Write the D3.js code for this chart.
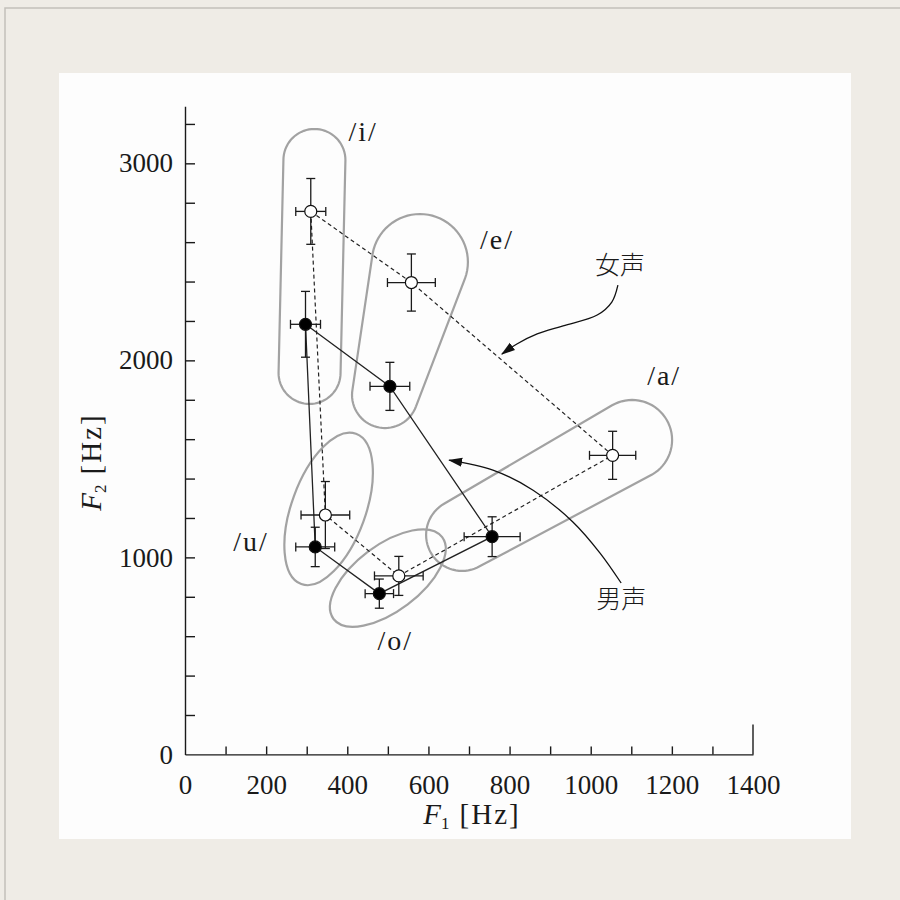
<!DOCTYPE html>
<html>
<head>
<meta charset="utf-8">
<script src="https://cdn.jsdelivr.net/npm/d3@7"></script>
<style>
  body { margin: 0; background: #efece6; }
  svg text { font-family: "Liberation Serif", "DejaVu Serif", serif; fill: #1a1a1a; }
  .cjk { font-family: "Noto Sans CJK JP", "Noto Sans CJK SC", sans-serif !important; font-weight: 300; }
</style>
</head>
<body>
<div id="chart"></div>
<script>
// Vowels in polygon order (i -> e -> a -> o -> u -> back to i)
var vowels = ["i", "e", "a", "o", "u"];

// Female voice (open circles), Hz
var femaleF1 = [310, 558, 1054, 527, 346];
var femaleF2 = [2756, 2395, 1518, 906, 1215];
var femaleF1Err = [37, 59, 57, 60, 60];
var femaleF2Err = [167, 145, 122, 99, 170];

// Male voice (filled circles), Hz
var maleF1 = [297, 505, 757, 479, 321];
var maleF2 = [2183, 1868, 1105, 816, 1053];
var maleF1Err = [37, 49, 69, 35, 48];
var maleF2Err = [167, 122, 101, 74, 100];

// Tick values
var xLabelTicks = [0, 200, 400, 600, 800, 1000, 1200, 1400];
var xMinorTicks = [100, 200, 300, 400, 500, 600, 700, 800, 900, 1000, 1100, 1200, 1300];
var yLabelTicks = [0, 1000, 2000, 3000];
var yMinorTicks = d3.range(200, 3201, 200);

// Vowel label anchor (Hz), same order as vowels
var labelF1 = [439, 769, 1181, 518, 163];
var labelF2 = [3113, 2566, 1875, 530, 1033];

// Elongated regions /i/ /e/ /a/ : two end circles (Hz centre), hull drawn round them
var capsuleName = ["i", "e", "a"];
var capsuleEndA = [[319, 3017], [579, 2499], [1102, 1596]];
var capsuleEndB = [[307, 1936], [493, 1824], [683, 1114]];
var capsuleRadius = [[31, 31], [48, 33], [40, 36]];

// Oval regions /u/ /o/ : centre (Hz)
var ovalName = ["u", "o"];
var ovalCentre = [[354, 1246], [500, 895]];
var ovalSize = [[80, 37, -70], [68, 33, -37]];  // rx, ry, angle

// Annotation arrows (Hz points along the curve, last = tip)
var femaleArrow = [[1067, 2382], [1052, 2296], [1016, 2230], [932, 2175], [868, 2134], [818, 2083], [781, 2032]];
var maleArrow = [[1075, 870], [1023, 1022], [956, 1180], [858, 1341], [759, 1443], [651, 1494]];

var width = 900;
var height = 900;

var svg = d3.select("#chart")
    .append("svg")
    .attr("width", width)
    .attr("height", height);

// page frame of the scan
svg.append("rect")
    .attr("x", 5).attr("y", 8)
    .attr("width", width).attr("height", height)
    .attr("fill", "#efece6")
    .attr("stroke", "#c3c0ba")
    .attr("stroke-width", 1.5);

svg.append("rect")
    .attr("x", 59).attr("y", 73)
    .attr("width", 792).attr("height", 766)
    .attr("fill", "#fdfdfd");

var xScale = d3.scaleLinear().domain([0, 1400]).range([185, 753]);
var yScale = d3.scaleLinear().domain([0, 3290]).range([754.4, 106.2]);

// arrow head marker
svg.append("defs").append("marker")
    .attr("id", "head")
    .attr("markerUnits", "userSpaceOnUse")
    .attr("viewBox", "0 0 14 10")
    .attr("refX", 13).attr("refY", 5)
    .attr("markerWidth", 14).attr("markerHeight", 10)
    .attr("orient", "auto")
    .append("path")
    .attr("d", "M0,0.5 L14,5 L0,9.5 Z")
    .attr("fill", "#111");

// Vowel regions
var regionG = svg.append("g").attr("class", "regions");
var regionStroke = "#a2a2a2";

capsuleName.forEach(function(n, i) {
    var ends = [capsuleEndA[i], capsuleEndB[i]];
    var pts = [];
    ends.forEach(function(c, k) {
        var cx = xScale(c[0]), cy = yScale(c[1]), r = capsuleRadius[i][k];
        for (var a = 0; a < 72; a++) {
            var t = a / 72 * 2 * Math.PI;
            pts.push([cx + r * Math.cos(t), cy + r * Math.sin(t)]);
        }
    });
    var hull = d3.polygonHull(pts);
    regionG.append("path")
        .attr("d", d3.line().curve(d3.curveLinearClosed)(hull))
        .attr("fill", "none")
        .attr("stroke", regionStroke)
        .attr("stroke-width", 2.2);
});

ovalName.forEach(function(n, i) {
    var s = ovalSize[i];
    regionG.append("ellipse")
        .attr("transform", "translate(" + xScale(ovalCentre[i][0]) + "," + yScale(ovalCentre[i][1]) + ") rotate(" + s[2] + ")")
        .attr("rx", s[0]).attr("ry", s[1])
        .attr("fill", "none")
        .attr("stroke", regionStroke)
        .attr("stroke-width", 2.2);
});

// Axes
var axisColor = "#1a1a1a";

var xAxis = svg.append("g")
    .attr("transform", "translate(0," + yScale(0) + ")")
    .call(d3.axisBottom(xScale).tickValues(xMinorTicks).tickSize(-8).tickSizeOuter(0).tickFormat(""));

var yAxis = svg.append("g")
    .attr("transform", "translate(" + xScale(0) + ",0)")
    .call(d3.axisLeft(yScale).tickValues(yMinorTicks).tickSize(-10).tickSizeOuter(0).tickFormat(""));

[xAxis, yAxis].forEach(function(a) {
    a.selectAll("path, line").attr("stroke", axisColor).attr("stroke-width", 1.4);
});

// tall mark closing the x axis at 1400
svg.append("line")
    .attr("x1", xScale(1400)).attr("x2", xScale(1400))
    .attr("y1", yScale(0)).attr("y2", yScale(0) - 30)
    .attr("stroke", axisColor).attr("stroke-width", 1.4);

// tick labels
var xLab = svg.append("g")
    .attr("transform", "translate(0," + yScale(0) + ")")
    .call(d3.axisBottom(xScale).tickValues(xLabelTicks).tickSize(0).tickPadding(20).tickFormat(d3.format("d")));
var yLab = svg.append("g")
    .attr("transform", "translate(" + xScale(0) + ",0)")
    .call(d3.axisLeft(yScale).tickValues(yLabelTicks).tickSize(0).tickPadding(12).tickFormat(d3.format("d")));
[xLab, yLab].forEach(function(a) {
    a.select(".domain").remove();
    a.selectAll("text")
        .attr("font-family", "Liberation Serif")
        .attr("font-size", 27)
        .attr("fill", "#1a1a1a");
});

// axis titles
function axisTitle(g, sub) {
    g.append("tspan").attr("font-style", "italic").text("F");
    g.append("tspan").attr("font-size", 17).attr("dy", 5).text(sub);
    g.append("tspan").attr("dy", -5).attr("dx", 10).attr("letter-spacing", 2).text("[Hz]");
}

var xTitle = svg.append("text")
    .attr("x", 472).attr("y", 824)
    .attr("text-anchor", "middle")
    .attr("font-size", 29);
axisTitle(xTitle, "1");

var yTitle = svg.append("text")
    .attr("transform", "translate(101,462) rotate(-90)")
    .attr("text-anchor", "middle")
    .attr("font-size", 29);
axisTitle(yTitle, "2");

// series helper
function buildSeries(f1, f2, e1, e2) {
    return vowels.map(function(v, i) {
        return { vowel: v, f1: f1[i], f2: f2[i], e1: e1[i], e2: e2[i] };
    });
}
var female = buildSeries(femaleF1, femaleF2, femaleF1Err, femaleF2Err);
var male = buildSeries(maleF1, maleF2, maleF1Err, maleF2Err);

var polyLine = d3.line()
    .x(function(d) { return xScale(d.f1); })
    .y(function(d) { return yScale(d.f2); })
    .curve(d3.curveLinearClosed);

svg.append("path")
    .datum(female)
    .attr("d", polyLine)
    .attr("fill", "none")
    .attr("stroke", "#222")
    .attr("stroke-width", 1.2)
    .attr("stroke-dasharray", "4,3");

svg.append("path")
    .datum(male)
    .attr("d", polyLine)
    .attr("fill", "none")
    .attr("stroke", "#222")
    .attr("stroke-width", 1.3);

// error bars + points
var cap = 4.5;
function drawPoints(data, fill) {
    var g = svg.append("g");
    data.forEach(function(d) {
        var cx = xScale(d.f1), cy = yScale(d.f2);
        var x0 = xScale(d.f1 - d.e1), x1 = xScale(d.f1 + d.e1);
        var y0 = yScale(d.f2 - d.e2), y1 = yScale(d.f2 + d.e2);
        var bars = [
            [x0, cy, x1, cy], [cx, y0, cx, y1],
            [x0, cy - cap, x0, cy + cap], [x1, cy - cap, x1, cy + cap],
            [cx - cap, y0, cx + cap, y0], [cx - cap, y1, cx + cap, y1]
        ];
        g.selectAll(null).data(bars).enter().append("line")
            .attr("x1", function(b) { return b[0]; })
            .attr("y1", function(b) { return b[1]; })
            .attr("x2", function(b) { return b[2]; })
            .attr("y2", function(b) { return b[3]; })
            .attr("stroke", "#1a1a1a")
            .attr("stroke-width", 1.3);
        g.append("circle")
            .attr("cx", cx).attr("cy", cy)
            .attr("r", 6)
            .attr("fill", fill)
            .attr("stroke", "#111")
            .attr("stroke-width", 1.2);
    });
}
drawPoints(female, "#fff");
drawPoints(male, "#000");

// vowel labels
vowels.forEach(function(v, i) {
    svg.append("text")
        .attr("x", xScale(labelF1[i]))
        .attr("y", yScale(labelF2[i]))
        .attr("text-anchor", "middle")
        .attr("font-size", 28)
        .attr("letter-spacing", 2)
        .text("/" + v + "/");
});

// annotation arrows
var curveLine = d3.line()
    .x(function(d) { return xScale(d[0]); })
    .y(function(d) { return yScale(d[1]); })
    .curve(d3.curveCatmullRom.alpha(0.5));

[femaleArrow, maleArrow].forEach(function(pts) {
    svg.append("path")
        .attr("d", curveLine(pts))
        .attr("fill", "none")
        .attr("stroke", "#111")
        .attr("stroke-width", 1.3)
        .attr("marker-end", "url(#head)");
});

svg.append("text")
    .attr("class", "cjk")
    .attr("x", xScale(1072)).attr("y", yScale(2440))
    .attr("text-anchor", "middle")
    .attr("font-size", 25)
    .text("女声");

svg.append("text")
    .attr("class", "cjk")
    .attr("x", xScale(1075)).attr("y", yScale(745))
    .attr("text-anchor", "middle")
    .attr("font-size", 25)
    .text("男声");
</script>
</body>
</html>
